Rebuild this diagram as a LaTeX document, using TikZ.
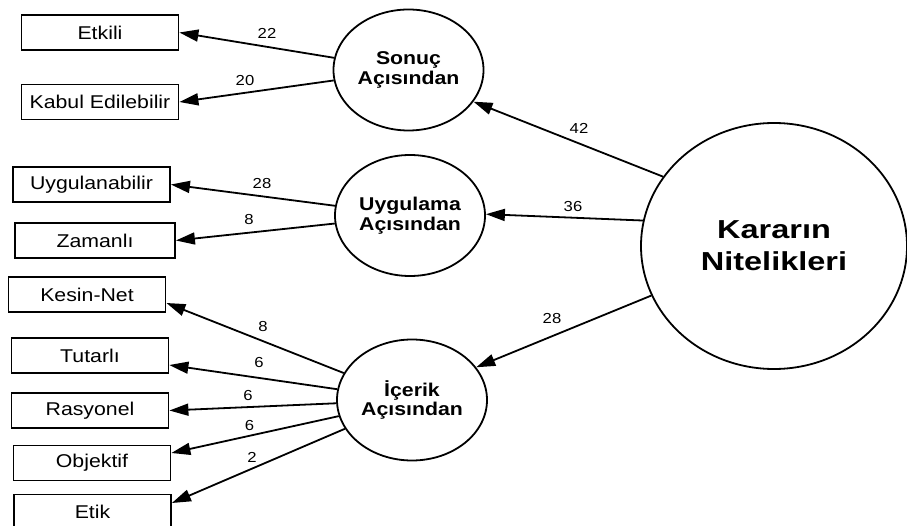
\documentclass[tikz,border=0pt]{standalone}
\usepackage{fontspec}
\setmainfont{Liberation Sans}[FakeStretch=1.15]
\newfontfamily\hubfont{Liberation Sans}[FakeStretch=1.25]
\usetikzlibrary{shapes.geometric,arrows.meta}

\begin{document}
\begin{tikzpicture}[x=1pt,y=-1pt,
  item/.style={draw, line width=1.8pt, rectangle, minimum width=157pt, minimum height=35pt,
    inner sep=0pt, font=\fontsize{18.5}{22}\selectfont},
  factor/.style={draw, line width=1.8pt, ellipse, inner sep=0pt, align=center,
    minimum width=150pt, minimum height=121pt, font=\fontsize{18.5}{19.5}\selectfont\bfseries},
  hub/.style={draw, line width=1.8pt, ellipse, inner sep=0pt, align=center,
    minimum width=266pt, minimum height=246pt, font=\hubfont\fontsize{26}{31.7}\selectfont\bfseries},
  wt/.style={inner sep=0pt, font=\fontsize{14.5}{16}\selectfont},
  link/.style={line width=1.8pt, -{Triangle[length=19pt,width=12pt]}}
]
\useasboundingbox (0,0) rectangle (907,526);

% central construct
\node[hub] (kn) at (774,246) {Kararın\\Nitelikleri};

% first-order factors
\node[factor] (sonuc) at (408.5,70) {Sonuç\\Açısından};
\node[factor] (ug) at (410,215.5) {Uygulama\\Açısından};
\node[factor] (ic) at (412,400) {İçerik\\Açısından};

% indicators
\node[item] (etkili) at (100,32.5) {Etkili};
\node[item] (kabul) at (100,102) {Kabul Edilebilir};
\node[item] (uyg) at (91.5,184.5) {Uygulanabilir};
\node[item, minimum width=160pt] (zam) at (95,240.5) {Zamanlı};
\node[item] (kesin) at (87,294.5) {Kesin-Net};
\node[item] (tutarli) at (90,355.5) {Tutarlı};
\node[item] (rasyonel) at (90,410.5) {Rasyonel};
\node[item] (objektif) at (92,463) {Objektif};
\node[item] (etik) at (92.5,512) {Etik};

% paths from the central construct
\draw[link] (kn.148) -- (sonuc.-26.4);
\draw[link] (kn.169.7) -- (ug.1);
\draw[link] (kn.202) -- (ic.27);

% paths from the factors to their indicators
\draw[link] (sonuc) -- (etkili.east);
\draw[link] (sonuc) -- (kabul.east);
\draw[link] (ug) -- (uyg.east);
\draw[link] (ug) -- (zam.east);
\draw[link] (ic) -- ([yshift=-8.5pt]kesin.east);
\draw[link] (ic) -- ([yshift=-9.5pt]tutarli.east);
\draw[link] (ic) -- (rasyonel.east);
\draw[link] (ic) -- ([yshift=10pt]objektif.east);
\draw[link] (ic) -- ([yshift=9pt]etik.east);

% path weights
\node[wt] (w42) at (579,128) {42};
\node[wt] (w36) at (573,207) {36};
\node[wt] (w28a) at (552,319) {28};
\node[wt] (w22) at (267,33) {22};
\node[wt] (w20) at (245,80.5) {20};
\node[wt] (w28b) at (262,183.5) {28};
\node[wt] (w8a) at (249,219.5) {8};
\node[wt] (w8b) at (263,327) {8};
\node[wt] (w6a) at (259,363) {6};
\node[wt] (w6b) at (248,395.5) {6};
\node[wt] (w6c) at (249.5,425.5) {6};
\node[wt] (w2) at (252,457.5) {2};
\end{tikzpicture}
\end{document}
